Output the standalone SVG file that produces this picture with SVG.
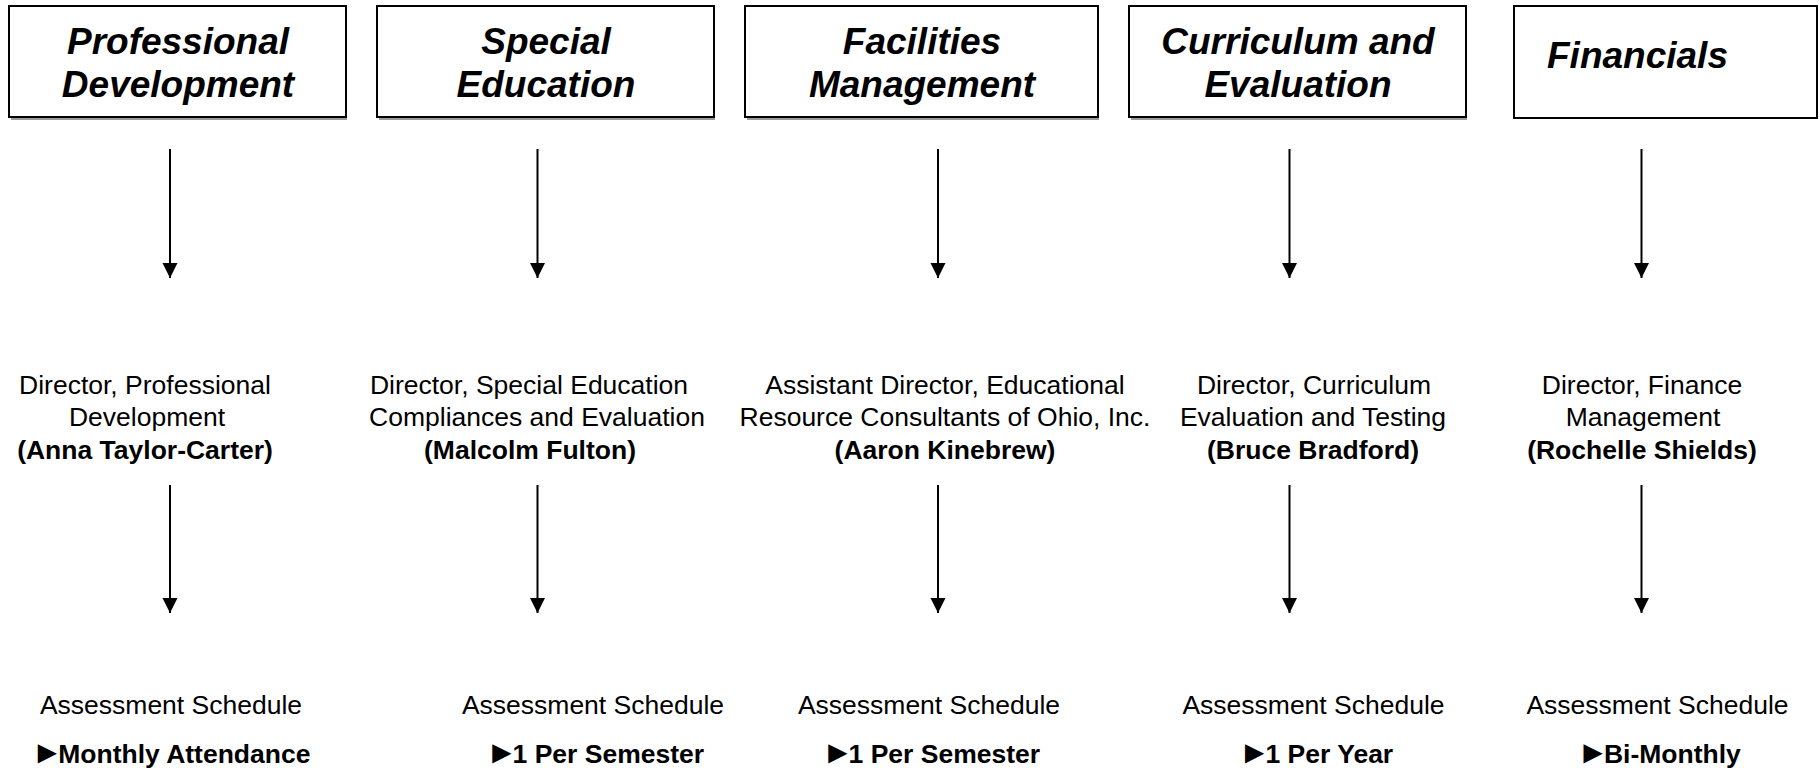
<svg xmlns="http://www.w3.org/2000/svg" width="1820" height="768" viewBox="0 0 1820 768">
<style>
.box{fill:#fff;stroke:#000;stroke-width:2}
.shadow{stroke:#9a9a9a;stroke-width:2}
.title{font-family:"Liberation Sans",Arial,sans-serif;font-size:37px;font-weight:bold;font-style:italic;text-anchor:middle;fill:#000}
.t{font-family:"Liberation Sans",Arial,sans-serif;font-size:26.5px;text-anchor:middle;fill:#000}
.b{font-weight:bold}
.tri{font-size:32px;letter-spacing:-5px}
.conn line{stroke:#000;stroke-width:2}
</style>
<defs>
<marker id="ah" markerUnits="userSpaceOnUse" markerWidth="16" markerHeight="16" viewBox="0 0 16 16" refX="15" refY="8" orient="auto">
<path d="M0,0.5 L15,8 L0,15.5 Z" fill="#000"/>
</marker>
</defs>
<rect width="1820" height="768" fill="#fff"/>

<g id="node-professional-development">
<line class="shadow" x1="11" y1="119" x2="347" y2="119"/>
<rect class="box" x="9" y="6" width="337" height="111"/>
<text class="title" x="178" y="54">Professional</text>
<text class="title" x="178" y="97">Development</text>
</g>
<g id="node-special-education">
<line class="shadow" x1="379" y1="119" x2="715" y2="119"/>
<rect class="box" x="377" y="6" width="337" height="111"/>
<text class="title" x="546" y="54">Special</text>
<text class="title" x="546" y="97">Education</text>
</g>
<g id="node-facilities-management">
<line class="shadow" x1="747" y1="119" x2="1099" y2="119"/>
<rect class="box" x="745" y="6" width="353" height="111"/>
<text class="title" x="922" y="54">Facilities</text>
<text class="title" x="922" y="97">Management</text>
</g>
<g id="node-curriculum-evaluation">
<line class="shadow" x1="1131" y1="119" x2="1467" y2="119"/>
<rect class="box" x="1129" y="6" width="337" height="111"/>
<text class="title" x="1298" y="54">Curriculum and</text>
<text class="title" x="1298" y="97">Evaluation</text>
</g>
<g id="node-financials">
<rect class="box" x="1514" y="6" width="303" height="112"/>
<text class="title" x="1547" y="68" style="text-anchor:start">Financials</text>
</g>

<g id="connectors" class="conn">
<line x1="170" y1="149" x2="170" y2="278" marker-end="url(#ah)"/>
<line x1="537.5" y1="149" x2="537.5" y2="278" marker-end="url(#ah)"/>
<line x1="938" y1="149" x2="938" y2="278" marker-end="url(#ah)"/>
<line x1="1289.5" y1="149" x2="1289.5" y2="278" marker-end="url(#ah)"/>
<line x1="1641.5" y1="149" x2="1641.5" y2="278" marker-end="url(#ah)"/>
<line x1="170" y1="485" x2="170" y2="613" marker-end="url(#ah)"/>
<line x1="537.5" y1="485" x2="537.5" y2="613" marker-end="url(#ah)"/>
<line x1="938" y1="485" x2="938" y2="613" marker-end="url(#ah)"/>
<line x1="1289.5" y1="485" x2="1289.5" y2="613" marker-end="url(#ah)"/>
<line x1="1641.5" y1="485" x2="1641.5" y2="613" marker-end="url(#ah)"/>
</g>

<g id="node-director-pd">
<text class="t" x="145" y="394">Director, Professional</text>
<text class="t" x="147" y="426">Development</text>
<text class="t b" x="145" y="459">(Anna Taylor-Carter)</text>
</g>
<g id="node-director-se">
<text class="t" x="529" y="394">Director, Special Education</text>
<text class="t" x="537" y="426">Compliances and Evaluation</text>
<text class="t b" x="530" y="459">(Malcolm Fulton)</text>
</g>
<g id="node-director-fm">
<text class="t" x="945" y="394">Assistant Director, Educational</text>
<text class="t" x="945" y="426">Resource Consultants of Ohio, Inc.</text>
<text class="t b" x="945" y="459">(Aaron Kinebrew)</text>
</g>
<g id="node-director-ce">
<text class="t" x="1314" y="394">Director, Curriculum</text>
<text class="t" x="1313" y="426">Evaluation and Testing</text>
<text class="t b" x="1313" y="459">(Bruce Bradford)</text>
</g>
<g id="node-director-fin">
<text class="t" x="1642" y="394">Director, Finance</text>
<text class="t" x="1643" y="426">Management</text>
<text class="t b" x="1642" y="459">(Rochelle Shields)</text>
</g>

<g id="node-schedule-pd">
<text class="t" x="171" y="714">Assessment Schedule</text>
<text class="t b" x="171" y="763"><tspan class="tri">►</tspan>Monthly Attendance</text>
</g>
<g id="node-schedule-se">
<text class="t" x="593" y="714">Assessment Schedule</text>
<text class="t b" x="595" y="763"><tspan class="tri">►</tspan>1 Per Semester</text>
</g>
<g id="node-schedule-fm">
<text class="t" x="929" y="714">Assessment Schedule</text>
<text class="t b" x="931" y="763"><tspan class="tri">►</tspan>1 Per Semester</text>
</g>
<g id="node-schedule-ce">
<text class="t" x="1313.5" y="714">Assessment Schedule</text>
<text class="t b" x="1316" y="763"><tspan class="tri">►</tspan>1 Per Year</text>
</g>
<g id="node-schedule-fin">
<text class="t" x="1657.5" y="714">Assessment Schedule</text>
<text class="t b" x="1659" y="763"><tspan class="tri">►</tspan>Bi-Monthly</text>
</g>
</svg>
